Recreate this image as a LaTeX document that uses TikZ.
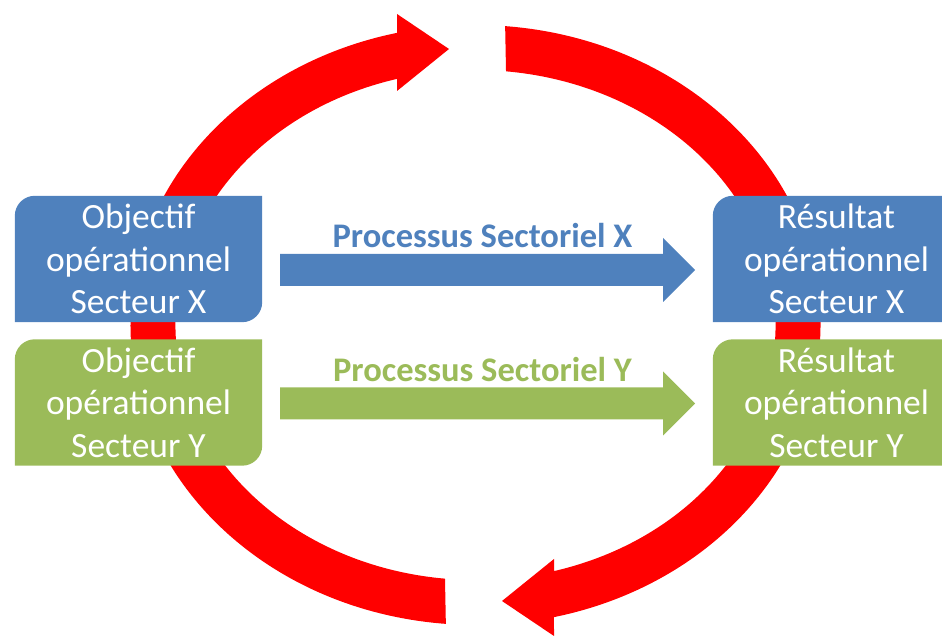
\documentclass[tikz,border=0pt]{standalone}
\usepackage{fontspec}
\setmainfont{Carlito}
\usetikzlibrary{calc}

\definecolor{boxblue}{HTML}{4F81BD}
\definecolor{boxgreen}{HTML}{9BBB59}
\definecolor{ringred}{HTML}{FF0000}

\pgfdeclarelayer{ring}
\pgfdeclarelayer{boxes}
\pgfsetlayers{ring,boxes,main}

\tikzset{
  sectorbox/.style={minimum width=247pt, minimum height=126pt, inner sep=0pt,
    text=white, align=center, font=\fontsize{35.5}{42.5}\selectfont},
  proclabel/.style={anchor=base, font=\bfseries\fontsize{34.5}{40}\selectfont},
  % one half of the red cycle: a curved band ending in an arrow head
  ringarrow/.pic={
    \fill[ringred]
      (265.07:345pt and 300pt)
        arc[start angle=265.07, end angle=103.15, x radius=345pt, y radius=300pt]
      -- (-78.5,311) -- (-26.5,276) -- (-78.5,234)
      -- (105.17:300pt and 255pt)
        arc[start angle=105.17, end angle=264.16, x radius=300pt, y radius=255pt]
      -- cycle;
  }
}

% box with rounded top-left and bottom-right corners behind a node
\newcommand\sectorfill[2]{%
  \fill[#2] ([yshift=-20pt]#1.north west) arc[start angle=180, end angle=90, radius=20pt]
    -- (#1.north east) -- ([yshift=20pt]#1.south east)
    arc[start angle=0, end angle=-90, radius=20pt] -- (#1.south west) -- cycle;}

\begin{document}
\begin{tikzpicture}[x=1pt, y=1pt]
\useasboundingbox (0,0) rectangle (942,636);

% red cycle
\begin{pgfonlayer}{ring}
  \pic at (475.5,311) {ringarrow};
  \pic[rotate=180] at (475.5,311) {ringarrow};
\end{pgfonlayer}

% sector boxes
\node[sectorbox] (ox) at (138.5,377)   {Objectif\\opérationnel\\Secteur X};
\node[sectorbox] (oy) at (138.5,233.5) {Objectif\\opérationnel\\Secteur Y};
\node[sectorbox] (rx) at (836.5,377)   {Résultat\\opérationnel\\Secteur X};
\node[sectorbox] (ry) at (836.5,233.5) {Résultat\\opérationnel\\Secteur Y};

\begin{pgfonlayer}{boxes}
  \sectorfill{ox}{boxblue}
  \sectorfill{oy}{boxgreen}
  \sectorfill{rx}{boxblue}
  \sectorfill{ry}{boxgreen}
\end{pgfonlayer}

% process arrows between the boxes
\fill[boxblue] ([shift={(18,5)}]ox.east) -- ++(383,0) -- ++(0,16) -- ++(32,-32)
  -- ++(-32,-32) -- ++(0,16) -- ++(-383,0) -- cycle;
\fill[boxgreen] ([shift={(18,15)}]oy.east) -- ++(383,0) -- ++(0,16) -- ++(32,-32)
  -- ++(-32,-32) -- ++(0,16) -- ++(-383,0) -- cycle;

\node[proclabel, text=boxblue]  (px) at (482.5,388) {Processus Sectoriel X};
\node[proclabel, text=boxgreen] (py) at (482.5,254) {Processus Sectoriel Y};
\end{tikzpicture}
\end{document}
